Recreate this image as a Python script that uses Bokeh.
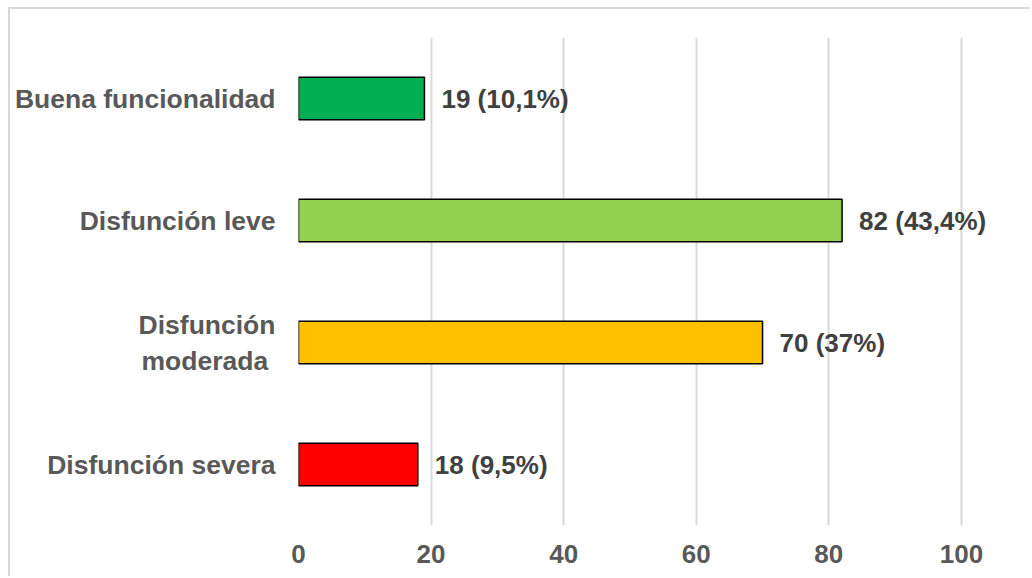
from bokeh.plotting import figure
from bokeh.models import ColumnDataSource, FactorRange, Range1d, FixedTicker
from bokeh.embed import file_html
from bokeh.resources import INLINE
from bokeh.core.properties import value

categories = ["Disfunción severa", "Disfunción\nmoderada ", "Disfunción leve", "Buena funcionalidad"]
counts = [18, 70, 82, 19]
labels = ["18 (9,5%)", "70 (37%)", "82 (43,4%)", "19 (10,1%)"]
colors = ["#FF0000", "#FFC000", "#92D050", "#00B050"]
x_ticks = [0, 20, 40, 60, 80, 100]

FONT = "Liberation Sans"

src = ColumnDataSource(dict(cat=categories, n=counts, lab=labels, col=colors))

W, H = 1022, 569
# frame spans x 299..1020 on the page; 0..100 maps to 299..961
x_end = 100 * (1020 - 299) / (961 - 299)
p = figure(width=W, height=H, y_range=FactorRange(*categories, range_padding=0),
           x_range=Range1d(0, x_end), output_backend="svg", toolbar_location=None,
           min_border_left=288, min_border_right=W - (1020 - 10),
           min_border_top=37 - 9, min_border_bottom=H - (525 - 9))
p.margin = (7, 0, 0, 8)
p.styles = {"border-top": "2px solid #D9D9D9", "border-left": "2px solid #D9D9D9"}
p.outline_line_color = None
p.background_fill_color = "white"
p.border_fill_color = "white"

p.hbar(y="cat", right="n", left=0, height=0.35, fill_color="col",
       line_color="black", line_width=1.5, source=src)

p.text(x="n", y="cat", text="lab", source=src, x_offset=17,
       text_align="left", text_baseline="middle", text_font=value(FONT),
       text_font_style="bold", text_font_size="26px", text_color="#404040")

p.xaxis.ticker = FixedTicker(ticks=x_ticks)
p.xgrid.ticker = FixedTicker(ticks=x_ticks)
p.xgrid.grid_line_color = "#D9D9D9"
p.xgrid.grid_line_width = 2
p.ygrid.grid_line_color = None

for ax in (p.xaxis, p.yaxis):
    ax.axis_line_color = None
    ax.major_tick_line_color = None
    ax.minor_tick_line_color = None
    ax.major_label_text_font = FONT
    ax.major_label_text_font_style = "bold"
    ax.major_label_text_font_size = "26px"
    ax.major_label_text_color = "#595959"

p.yaxis.major_label_text_font_size = "26.5px"
p.xaxis.major_label_standoff = 13
p.yaxis.major_label_standoff = 17

open("out.html", "w").write(file_html(p, INLINE))
